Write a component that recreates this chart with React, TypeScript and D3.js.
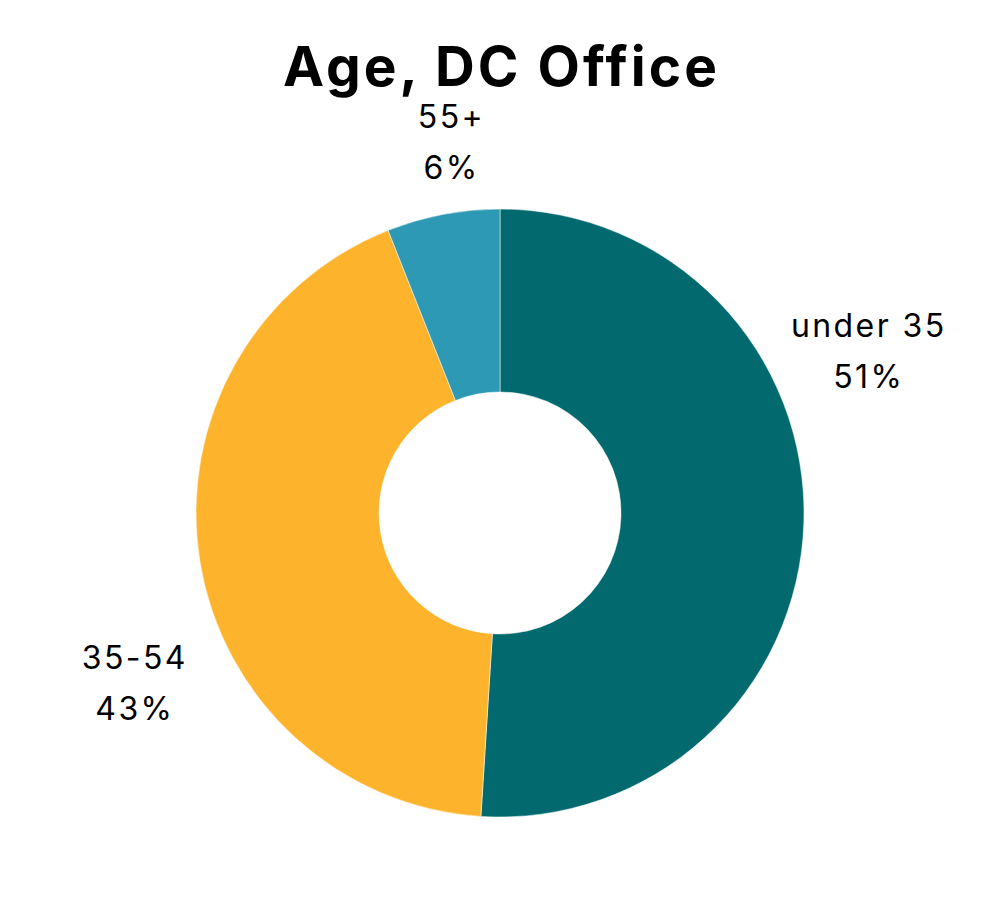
import { useEffect, useRef } from 'react'
import * as d3 from 'd3'

const categories = ['under 35', '35-54', '55+']
const values = [51, 43, 6]
const colors = ['#026a6f', '#fdb42c', '#2e99b4']

// label placement (angle in degrees clockwise from top, distance from centre)
const labelPos = [
  { angle: 67.8, r: 397 },
  { angle: 243.6, r: 409 },
  { angle: 352.1, r: 362 },
]

export default function App() {
  const ref = useRef<SVGSVGElement>(null)

  useEffect(() => {
    const svg = d3.select(ref.current!)
    svg.selectAll('*').remove()
    const W = 1000, H = 911
    svg.attr('width', W).attr('height', H)
    const cx = 500, cy = 513, rOuter = 304, rInner = 121

    svg.append('text').attr('x', 501.5).attr('y', 86).attr('text-anchor', 'middle')
      .attr('font-family', 'Inter, sans-serif').attr('font-weight', 'bold').attr('font-size', 55)
      .attr('letter-spacing', 3).attr('fill', '#000').text('Age, DC Office')

    const pie = d3.pie<number>().sort(null).value(d => d)
    const arc = d3.arc<d3.PieArcDatum<number>>().innerRadius(rInner).outerRadius(rOuter)
    const g = svg.append('g').attr('transform', `translate(${cx},${cy})`)
    const arcs = pie(values)
    g.selectAll('path').data(arcs).join('path')
      .attr('d', arc).attr('fill', (_, i) => colors[i])
      .attr('stroke', '#fff').attr('stroke-width', 0.5)

    arcs.forEach((_, i) => {
      const a = labelPos[i].angle * Math.PI / 180
      const x = Math.sin(a) * labelPos[i].r + 1.2
      const y = -Math.cos(a) * labelPos[i].r
      const t = g.append('text').attr('text-anchor', 'middle')
        .attr('font-family', 'Inter, sans-serif').attr('font-size', 32)
        .attr('letter-spacing', 2.4).attr('fill', '#000')
      t.append('tspan').attr('x', x).attr('y', y - 26).text(categories[i])
      t.append('tspan').attr('x', x).attr('y', y + 25).text(`${values[i]}%`)
    })
  }, [])

  return <svg ref={ref} style={{ display: 'block', margin: '-8px' }} />
}
